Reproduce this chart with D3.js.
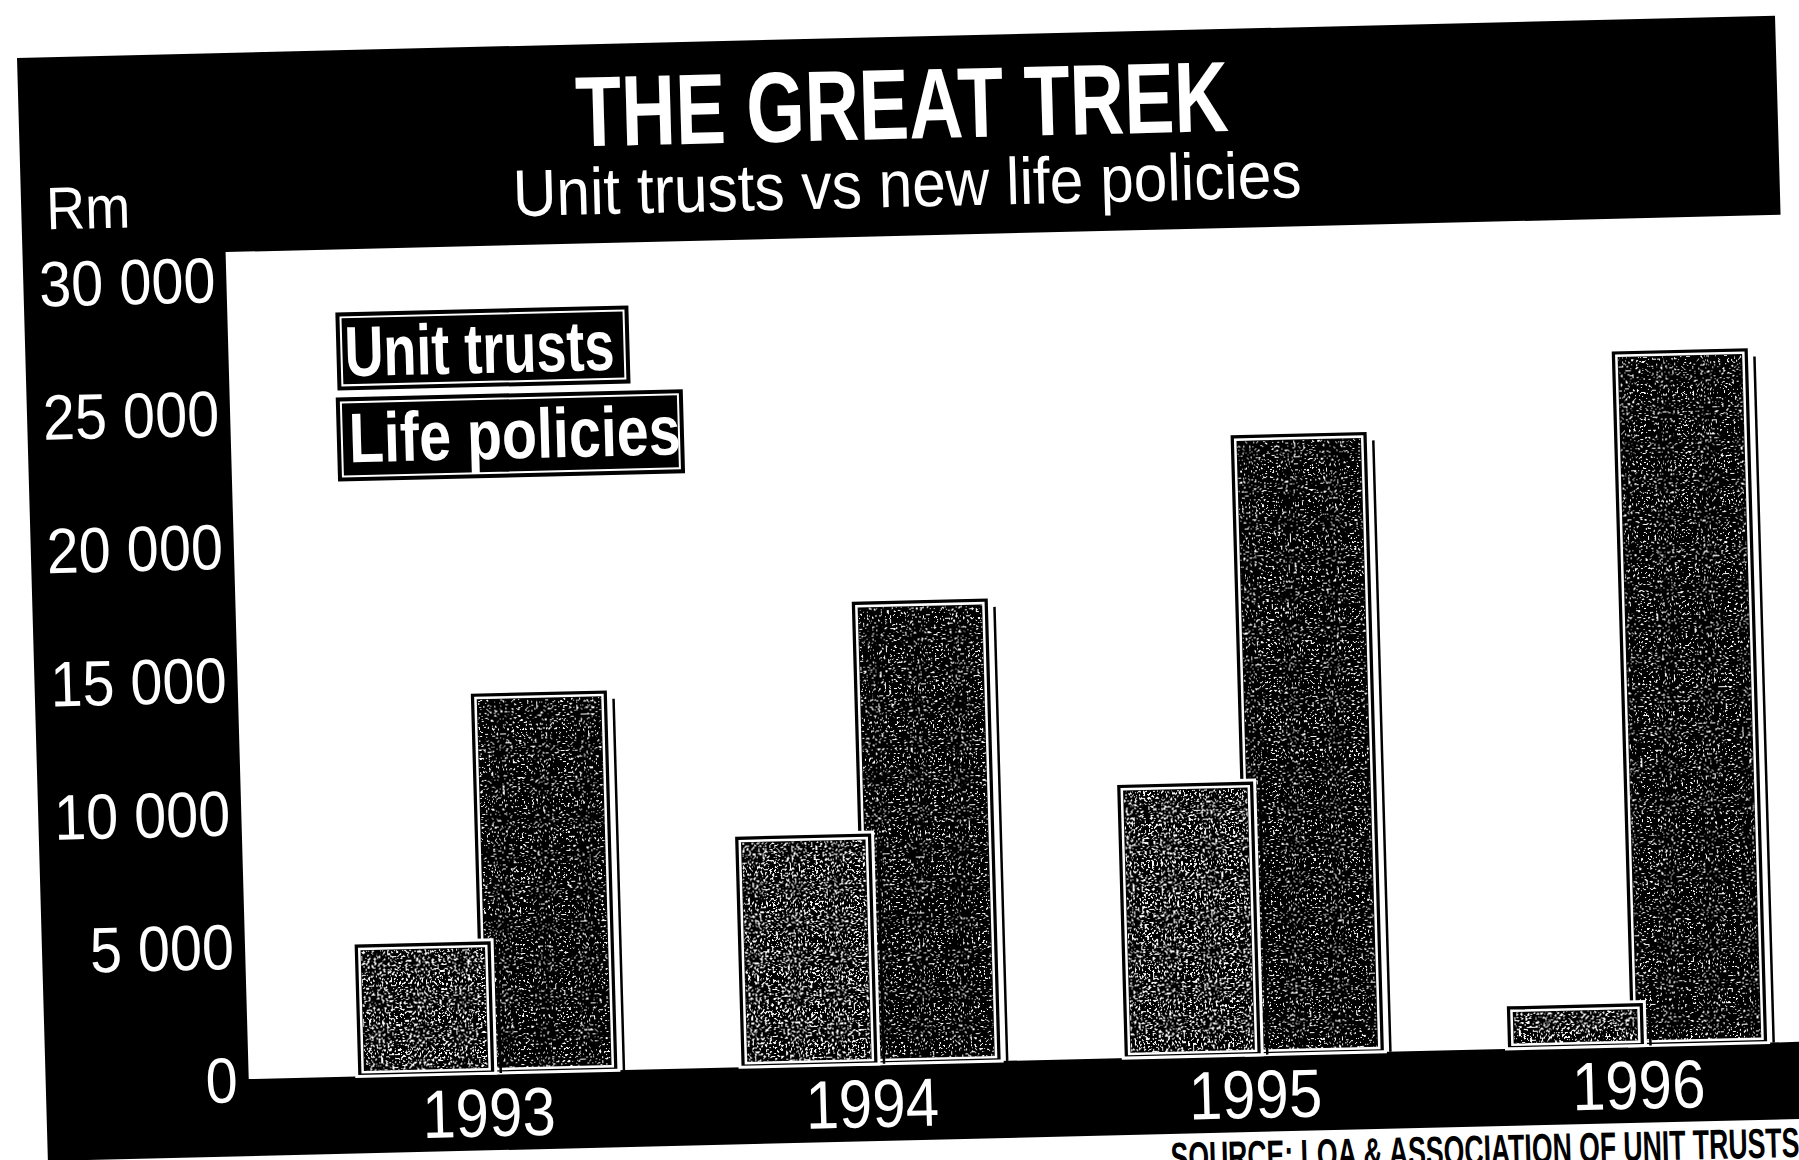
<!DOCTYPE html>
<html>
<head>
<meta charset="utf-8">
<title>The Great Trek</title>
<script src="https://cdn.jsdelivr.net/npm/d3@7"></script>
<style>
  html, body { margin: 0; padding: 0; background: #fff; }
  svg { display: block; }
</style>
</head>
<body>
<svg id="chart" width="1799" height="1160"></svg>
<script>
// ---- data (R million) ----
const years = ["1993", "1994", "1995", "1996"];
const seriesNames = ["Unit trusts", "Life policies"];
const unitTrusts = [5000, 8700, 10300, 1650];
const lifePolicies = [14300, 17400, 23300, 26100];
const yTickValues = [0, 5000, 10000, 15000, 20000, 25000, 30000];

const titleText = "THE GREAT TREK";
const subtitleText = "Unit trusts vs new life policies";
const unitText = "Rm";
const sourceText = "SOURCE: LOA & ASSOCIATION OF UNIT TRUSTS";

// thousands separated by a space: 30 000
const fmt = d3.formatLocale({ decimal: ".", thousands: " ", grouping: [3], currency: ["", ""] }).format(",");

const svg = d3.select("#chart");
const defs = svg.append("defs");

// speckled newsprint tint: white flecks where the noise dips under a cut level
function grain(id, freq, seed, cut) {
  const f = defs.append("filter").attr("id", id)
    .attr("x", 0).attr("y", 0).attr("width", 1).attr("height", 1)
    .attr("color-interpolation-filters", "sRGB");
  f.append("feTurbulence").attr("type", "fractalNoise")
    .attr("baseFrequency", freq).attr("numOctaves", 2).attr("seed", seed).attr("result", "noise");
  f.append("feColorMatrix").attr("in", "noise").attr("type", "matrix")
    .attr("values", `0 0 0 0 1  0 0 0 0 1  0 0 0 0 1  -40 0 0 0 ${40 * cut}`)
    .attr("result", "flecks");
  f.append("feComposite").attr("in", "flecks").attr("in2", "SourceAlpha").attr("operator", "in");
}
grain("grain-unit", 0.45, 4, 0.43);
grain("grain-life", 0.45, 11, 0.37);
const grainFor = { "Unit trusts": "grain-unit", "Life policies": "grain-life" };

// the whole page sits slightly askew
const page = svg.append("g").attr("transform", "matrix(1,-0.024,0.028,1,-1.62,0.36)");

// ---- scales ----
const y = d3.scaleLinear().domain([0, 30000]).range([1084, 284]);
const x0 = d3.scaleBand().domain(years).range([220, 1848]).paddingInner(0.316).paddingOuter(0.282);
const barW = 139;
const x1 = d3.scalePoint().domain(seriesNames).range([0, x0.bandwidth() - barW]);

const plotLeft = x0.range()[0];
const plotTop = 257;
const yBase = y(0);

// black frame: title band, value column and year band in one piece
page.append("path")
  .attr("d", `M17,58 H1775 V${plotTop} H${plotLeft} V${yBase} H1850 V1161 H17 Z`)
  .attr("fill", "#000");

// ---- text helper (condensed newspaper face) ----
function label(parent, str, px, py, size, weight, sx, anchor, fill) {
  return parent.append("text")
    .attr("transform", `translate(${px},${py}) scale(${sx},1)`)
    .attr("text-anchor", anchor)
    .attr("font-family", "'Liberation Sans', Arial, sans-serif")
    .attr("font-size", size)
    .attr("font-weight", weight)
    .attr("fill", fill)
    .text(str);
}

// ---- bars ----
function bar(g, bx, by, bw, bh, grainId) {
  g.append("rect").attr("x", bx).attr("y", by).attr("width", bw).attr("height", bh)
    .attr("fill", "#000").attr("stroke", "#fff").attr("stroke-width", 3);
  g.append("rect").attr("x", bx + 8).attr("y", by + 8).attr("width", bw - 16).attr("height", Math.max(0, bh - 12))
    .attr("fill", "#000").attr("filter", `url(#${grainId})`);
  g.append("rect").attr("x", bx + 6).attr("y", by + 6).attr("width", bw - 12).attr("height", Math.max(0, bh - 10))
    .attr("fill", "none").attr("stroke", "#fff").attr("stroke-width", 2.5);
  g.append("line").attr("x1", bx + bw + 5).attr("x2", bx + bw + 5)
    .attr("y1", by + 10).attr("y2", by + bh)
    .attr("stroke", "#000").attr("stroke-width", 2.5);
}

const valuesBySeries = { "Unit trusts": unitTrusts, "Life policies": lifePolicies };
const barLayer = page.append("g");
// life policies behind, unit trusts in front
seriesNames.slice().reverse().forEach(s => {
  years.forEach((yr, i) => {
    const v = valuesBySeries[s][i];
    bar(barLayer, x0(yr) + x1(s), y(v), barW, yBase - y(v), grainFor[s]);
  });
});

// ---- value axis ----
yTickValues.forEach(v => {
  label(page, fmt(v), 209, y(v), 64, 400, 0.9, "end", "#fff").attr("dy", "0.358em");
});
label(page, unitText, 42, 230, 60, 400, 0.9, "start", "#fff");

// ---- year labels ----
years.forEach(yr => {
  label(page, yr, x0(yr) + x0.bandwidth() / 2, 1147, 68, 400, 0.88, "middle", "#fff");
});

// ---- titles ----
label(page, titleText, 900, 160, 100, 700, 0.75, "middle", "#fff");
label(page, subtitleText, 903, 228, 66, 400, 0.915, "middle", "#fff");

// ---- legend ----
const legend = page.append("g");
const legendBoxes = [
  { name: seriesNames[0], bx: 328, by: 320, bw: 293, bh: 78, tx: 336, ty: 384, size: 71, sx: 0.76 },
  { name: seriesNames[1], bx: 326, by: 405, bw: 347, bh: 84, tx: 338, ty: 470, size: 70, sx: 0.82 }
];
legendBoxes.forEach(d => {
  legend.append("rect").attr("x", d.bx).attr("y", d.by).attr("width", d.bw).attr("height", d.bh).attr("fill", "#000");
  legend.append("rect").attr("x", d.bx + 5).attr("y", d.by + 5).attr("width", d.bw - 10).attr("height", d.bh - 10)
    .attr("fill", "none").attr("stroke", "#fff").attr("stroke-width", 2);
  label(legend, d.name, d.tx, d.ty, d.size, 700, d.sx, "start", "#fff");
});

// ---- source ----
label(page, sourceText, 1139, 1199, 42, 700, 0.634, "start", "#000");
</script>
</body>
</html>
